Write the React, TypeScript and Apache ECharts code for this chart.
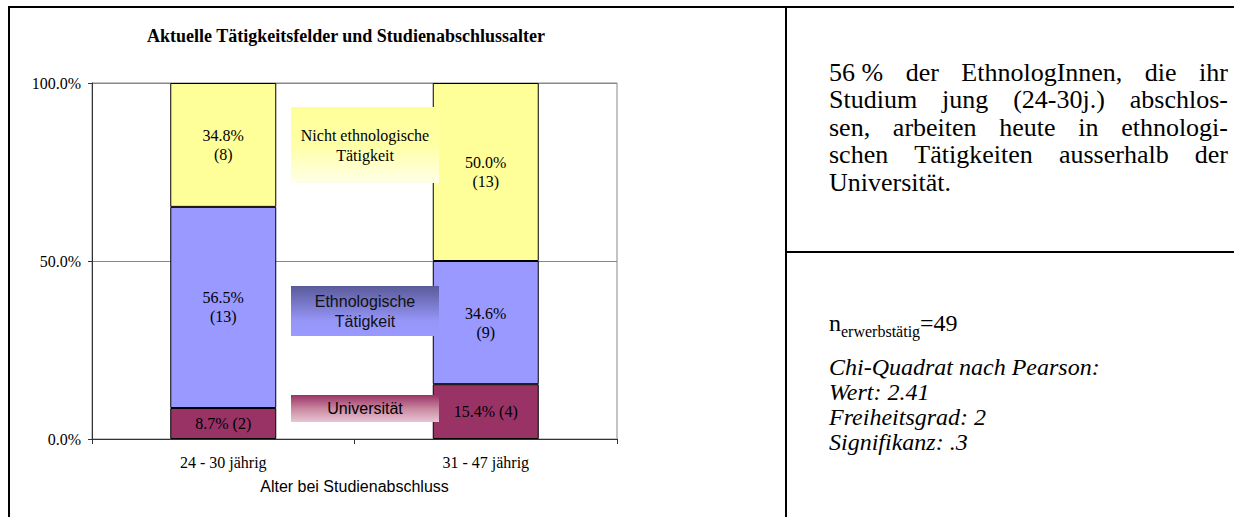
import React, { useEffect, useRef } from "react";
import * as echarts from "echarts";

const categories = ["24 - 30 jährig", "31 - 47 jährig"];
const seriesNames = ["Universität", "Ethnologische Tätigkeit", "Nicht ethnologische Tätigkeit"];
const uniPct = [8.7, 15.4];
const ethnoPct = [56.5, 34.6];
const nichtPct = [34.8, 50.0];
const uniN = [2, 4];
const ethnoN = [13, 9];
const nichtN = [8, 13];
const yTicks = [0, 50, 100];
const title = "Aktuelle Tätigkeitsfelder und Studienabschlussalter";
const xName = "Alter bei Studienabschluss";
const summaryLines = [
  ["56 %", "der", "EthnologInnen,", "die", "ihr"],
  ["Studium", "jung", "(24-30j.)", "abschlos-"],
  ["sen,", "arbeiten", "heute", "in", "ethnologi-"],
  ["schen", "Tätigkeiten", "ausserhalb", "der"],
  ["Universität."],
];
const statLines = ["Chi-Quadrat nach Pearson:", "Wert: 2.41", "Freiheitsgrad: 2", "Signifikanz: .3"];
const nLabel = { main: "n", sub: "erwerbstätig", rest: "=49" };

const SERIF = '"Liberation Serif", "Times New Roman", serif';
const SANS = '"Liberation Sans", Arial, sans-serif';

function measure(text: string, font: string): number {
  const c = document.createElement("canvas").getContext("2d")!;
  c.font = font;
  return c.measureText(text).width;
}

export default function App() {
  const ref = useRef<HTMLDivElement>(null);
  useEffect(() => {
    document.body.style.margin = "0";
    const chart = echarts.init(ref.current!, undefined, { renderer: "svg" });

    const bodyFont = `26px ${SERIF}`;
    const textLeft = 829;
    const textRight = 1228;
    const lineY = [72, 99.5, 127, 154.5, 182];
    const summaryEls: any[] = [];
    summaryLines.forEach((words, li) => {
      const widths = words.map((w) => measure(w, bodyFont));
      const total = widths.reduce((a, b) => a + b, 0);
      const justify = li < summaryLines.length - 1 && words.length > 1;
      const gap = justify ? (textRight - textLeft - total) / (words.length - 1) : measure(" ", bodyFont);
      let x = textLeft;
      words.forEach((w, wi) => {
        summaryEls.push({
          type: "text",
          x,
          y: lineY[li],
          z: 100,
          style: { text: w, font: bodyFont, fill: "#000", verticalAlign: "middle", align: "left" },
        });
        x += widths[wi] + gap;
      });
    });

    const nFont = `24px ${SERIF}`;
    const nW = measure(nLabel.main, nFont);
    const subFont = `16px ${SERIF}`;
    const subW = measure(nLabel.sub, subFont);
    const italicFont = `italic 24px ${SERIF}`;
    const statY = [367, 392, 417, 442];

    const graphics: any[] = [
      { type: "line", z: 100, shape: { x1: 8, y1: 7, x2: 1234, y2: 7 }, style: { stroke: "#000", lineWidth: 2 } },
      { type: "line", z: 100, shape: { x1: 9, y1: 6, x2: 9, y2: 517 }, style: { stroke: "#000", lineWidth: 2 } },
      { type: "line", z: 100, shape: { x1: 786, y1: 6, x2: 786, y2: 517 }, style: { stroke: "#000", lineWidth: 2 } },
      { type: "line", z: 100, shape: { x1: 786, y1: 252, x2: 1234, y2: 252 }, style: { stroke: "#000", lineWidth: 2 } },
      {
        type: "text", x: 147, y: 36, z: 100,
        style: { text: title, font: `bold 18px ${SERIF}`, fill: "#000", verticalAlign: "middle" },
      },
      {
        type: "rect", z: 100, shape: { x: 291, y: 107, width: 148, height: 76 },
        style: {
          fill: new echarts.graphic.LinearGradient(0, 0, 0, 1, [
            { offset: 0, color: "#FFFF99" },
            { offset: 0.5, color: "#FFFFA6" },
            { offset: 1, color: "#FFFFE8" },
          ]),
        },
      },
      {
        type: "text", z: 101, x: 365, y: 145,
        style: { text: "Nicht ethnologische\nTätigkeit", font: `16px ${SERIF}`, lineHeight: 20, fill: "#000", align: "center", verticalAlign: "middle" },
      },
      {
        type: "rect", z: 100, shape: { x: 291, y: 286, width: 148, height: 50 },
        style: {
          fill: new echarts.graphic.LinearGradient(0, 0, 0, 1, [
            { offset: 0, color: "#5A5A9A" },
            { offset: 0.7, color: "#9696F8" },
            { offset: 1, color: "#9999FF" },
          ]),
        },
      },
      {
        type: "text", z: 101, x: 365, y: 311.5,
        style: { text: "Ethnologische\nTätigkeit", font: `16px ${SANS}`, lineHeight: 20, fill: "#111", align: "center", verticalAlign: "middle" },
      },
      {
        type: "rect", z: 100, shape: { x: 291, y: 395, width: 148, height: 27 },
        style: {
          fill: new echarts.graphic.LinearGradient(0, 0, 0, 1, [
            { offset: 0, color: "#993366" },
            { offset: 0.5, color: "#C8869F" },
            { offset: 1, color: "#E8C6D4" },
          ]),
        },
      },
      {
        type: "text", z: 101, x: 365, y: 408.5,
        style: { text: "Universität", font: `16px ${SANS}`, fill: "#000", align: "center", verticalAlign: "middle" },
      },
      ...summaryEls,
      {
        type: "text", x: textLeft, y: 323, z: 100,
        style: { text: nLabel.main, font: nFont, fill: "#000", verticalAlign: "middle" },
      },
      {
        type: "text", x: textLeft + nW, y: 331.5, z: 100,
        style: { text: nLabel.sub, font: subFont, fill: "#000", verticalAlign: "middle" },
      },
      {
        type: "text", x: textLeft + nW + subW, y: 323, z: 100,
        style: { text: nLabel.rest, font: nFont, fill: "#000", verticalAlign: "middle" },
      },
      ...statLines.map((t, i) => ({
        type: "text", x: textLeft, y: statY[i], z: 100,
        style: { text: t, font: italicFont, fill: "#000", verticalAlign: "middle" },
      })),
    ];

    const mkLabel = (counts: number[], twoLines: boolean) => ({
      show: true,
      position: "inside",
      color: "#000",
      fontFamily: SERIF,
      fontSize: 16,
      lineHeight: 19,
      formatter: (p: any) =>
        `${Number(p.value).toFixed(1)}%${twoLines ? "\n" : " "}(${counts[p.dataIndex]})`,
    });

    const colors = ["#993366", "#9999FF", "#FFFF99"];
    const values = [uniPct, ethnoPct, nichtPct];
    const counts = [uniN, ethnoN, nichtN];

    chart.setOption({
      animation: false,
      graphic: graphics,
      grid: { left: 92, right: 617, top: 83, bottom: 78, containLabel: false, show: true, borderColor: "#888", borderWidth: 1, backgroundColor: "transparent" },
      xAxis: {
        type: "category",
        data: categories,
        name: xName,
        nameLocation: "middle",
        nameGap: 39,
        nameTextStyle: { fontFamily: SANS, fontSize: 16, color: "#000" },
        axisLine: { lineStyle: { color: "#333", width: 1 } },
        axisTick: { show: true, length: 5, lineStyle: { color: "#333" } },
        axisLabel: { fontFamily: SERIF, fontSize: 16, color: "#000", margin: 15 },
      },
      yAxis: {
        type: "value",
        min: yTicks[0],
        max: yTicks[yTicks.length - 1],
        interval: yTicks[1] - yTicks[0],
        axisLine: { show: true, lineStyle: { color: "#333", width: 1 } },
        axisTick: { show: true, length: 4, lineStyle: { color: "#333" } },
        axisLabel: {
          fontFamily: SERIF, fontSize: 16, color: "#000", margin: 11,
          formatter: (v: number) => `${v.toFixed(1)}%`,
        },
        splitLine: { show: true, lineStyle: { color: "#888", width: 1 } },
      },
      series: seriesNames.map((name, i) => ({
        name,
        type: "bar",
        stack: "total",
        data: values[i],
        barWidth: 106,
        itemStyle: { color: colors[i], borderColor: "#000", borderWidth: 1 },
        label: mkLabel(counts[i], i !== 0),
      })),
    });
    return () => chart.dispose();
  }, []);
  return <div ref={ref} style={{ width: 1234, height: 517, position: "absolute", left: 0, top: 0, background: "#fff" }} />;
}
